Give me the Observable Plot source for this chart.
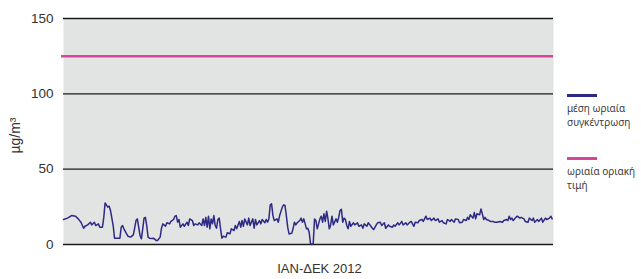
<!DOCTYPE html>
<html><head><meta charset="utf-8">
<script src="https://cdn.jsdelivr.net/npm/d3@7"></script>
<script src="https://cdn.jsdelivr.net/npm/@observablehq/plot@0.6"></script>
<style>
body{margin:0;background:#fff;}
#wrap{position:relative;width:641px;height:279px;}
.leg{position:absolute;left:567px;font-family:"Noto Sans",sans-serif;font-size:10px;color:#3c3c3c;line-height:14px;white-space:nowrap;}
.sw{width:30px;height:3px;margin-bottom:4px;}
</style></head><body><div id="wrap"></div>
<script>
// day of year (2012) and mean hourly concentration (µg/m³)
const days = [
 0,3,6,9,11,13,15,16,18,20,21,23,24,26,27,29,30,31,33,34,35,37,38,40,42,43,44,45,47,48,
 50,52,53,54,55,56,57,58,59,60,61,62,63,64,66,67,69,70,72,73,74,76,77,79,80,82,83,84,85,86,87,89,90,92,93,94,96,97,98,100,101,103,
 104,105,106,107,108,109,110,111,112,113,114,115,116,117,118,119,121,122,124,125,127,128,129,131,132,133,134,135,137,138,139,141,142,143,144,146,147,148,150,151,152,153,154,155,
 156,157,159,160,161,163,164,165,166,167,168,170,171,172,173,174,176,177,178,179,180,181,182,183,184,185,186,187,188,189,190,191,192,193,194,195,196,197,198,199,200,201,203,204,205,206,207,
 208,209,210,211,212,213,214,216,217,219,220,222,223,224,226,227,229,230,231,233,234,236,237,239,240,242,243,245,246,247,249,250,252,253,255,256,258,259,
 261,262,264,265,267,268,270,271,273,274,276,277,279,280,282,283,285,286,288,289,291,292,294,295,297,298,300,301,302,303,305,306,307,308,310,311,
 312,313,314,315,317,318,320,321,323,325,327,328,330,331,332,333,334,335,337,338,340,341,343,344,346,347,349,350,351,353,354,356,357,359,360,362,363,364
];
const conc = [
 16.6,17.5,19.2,18.8,17,14.8,10.8,12.1,13,14.8,13,14.8,12.6,13.7,11.5,11.5,18,27.6,24.8,25.4,22.6,12.6,4.2,4.2,4.2,11.5,12.6,10.4,7.1,5.5,
 4.9,6.4,10.8,15.9,17,11.5,6,3.8,10.4,17.5,18,12.6,4.9,4.2,4,4.2,2.7,2.7,4.9,10.8,13.7,12.1,14.4,13.7,15.3,16.6,18.8,19.2,14.8,16.6,11.5,13.7,12.1,14.8,12.6,17,15.9,12.6,13.7,13,14.4,12.6,
 17,12.6,18,11.5,18.8,10.4,17,13.7,19.2,12.6,10.8,16.6,17.5,10.4,4.2,5.5,4.9,7.8,7.1,10.4,9.3,12.6,10.4,15.3,11.5,15.9,12.1,17,13,17.5,12.6,17,10.8,16.6,13,15.9,13.7,16.6,14.4,16.6,14.8,17,26.3,27,
 19.2,15.9,17,14.8,19.2,24.8,26.3,25.9,19.2,11.5,7,7.4,10.4,14.8,13,14.4,15.9,17.5,14.8,17,13.7,10.4,10.8,8.2,0.5,0,0.5,17,15.9,10.4,13.7,17,18.8,14.8,20.4,15.3,22.1,17,10.4,13,18.8,13,17,14.8,18,22.6,23.4,
 14.8,17.5,16.6,12.6,10.4,15.3,12.1,14.4,13,14.4,12.1,13,10.8,13.7,12.1,14.4,12.1,10.8,9.9,13,14.4,14.8,12.6,14.4,10.8,13,12.1,11.5,13,12.1,14.4,13,15.3,13,14.4,13,14.8,15.3,
 12.1,14.8,14.4,15.9,16.6,15.3,18.8,16.6,17.5,15.9,17.5,15.9,17,14.8,15.9,14.4,13.7,16.6,15.3,16.6,14.8,17,16.6,14.4,14.8,16.6,15.9,18,16.6,19.8,17.5,21.2,17,20.4,19.8,23.6,
 20.3,16.6,18,16.6,15.9,15.3,15.3,14.8,14.8,15.3,14.8,15.9,16.6,15.9,18.8,16.6,17.5,15.9,18,18.8,17.5,18,17,15.3,14.8,17.5,15.9,17.5,14.8,16.6,15.3,17.5,14.8,17.5,16.6,17.5,18.8,17
];
const limitValue = [125];
const yTicks = [0, 50, 100, 150];
const yLabel = "µg/m³";
const xLabel = "IAN-ΔΕΚ 2012";
const legendLabels = ["μέση ωριαία<br>συγκέντρωση", "ωριαία οριακή<br>τιμή"];
const colors = ["#2d2a85", "#d5459b"];

const data = days.map((d, i) => ({day: d, value: conc[i]}));

const chart = Plot.plot({
  width: 641, height: 279,
  marginLeft: 63, marginRight: 88, marginTop: 18, marginBottom: 35,
  style: {fontFamily: '"Liberation Sans Narrow","Liberation Sans",sans-serif', color: "#333", background: "transparent"},
  x: {domain: [0, 365], axis: null},
  y: {domain: [0, 150], axis: null},
  marks: [
    Plot.frame({fill: "#e2e3e3", stroke: "none"}),
    Plot.ruleY(yTicks, {stroke: "#1a1a1a", strokeWidth: 1.3}),
    Plot.ruleY(limitValue, {stroke: colors[1], strokeWidth: 2.5, insetLeft: -2}),
    Plot.line(data, {x: "day", y: "value", stroke: colors[0], strokeWidth: 1.5}),
    Plot.axisY(yTicks, {tickSize: 0, tickPadding: 10, label: null, fontSize: 13.5}),
    Plot.text([yLabel], {frameAnchor: "left", textAnchor: "middle", lineAnchor: "middle", rotate: -90, dx: -48, dy: 4, fontSize: 14, fill: "#333"}),
    Plot.text([xLabel], {frameAnchor: "bottom", textAnchor: "middle", lineAnchor: "middle", dy: 24, dx: 11, fontSize: 13, fill: "#333"})
  ]
});
const wrap = document.getElementById("wrap");
wrap.appendChild(chart);
const tops = [94, 157];
legendLabels.forEach((t, i) => {
  const d = document.createElement("div");
  d.className = "leg";
  d.style.top = tops[i] + "px";
  d.innerHTML = `<div class="sw" style="background:${colors[i]}"></div>${t}`;
  wrap.appendChild(d);
});
</script></body></html>
